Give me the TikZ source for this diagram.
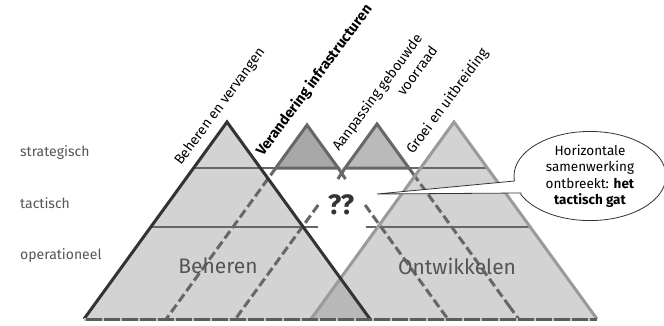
\documentclass[tikz,border=0pt]{standalone}
\usepackage{fontspec}
\setmainfont{Fira Sans}
\usetikzlibrary{shapes.geometric}
\definecolor{trifill}{HTML}{D3D3D3}
\definecolor{overfill}{HTML}{B8B8B8}
\definecolor{darkedge}{HTML}{333333}
\definecolor{greyedge}{HTML}{9A9A9A}
\definecolor{midedge}{HTML}{676767}
\definecolor{vfill}{HTML}{A8A8A8}
\definecolor{afill}{HTML}{BABABA}
\definecolor{labgrey}{HTML}{555555}
\begin{document}
\begin{tikzpicture}[x=1pt,y=-1pt,
  divline/.style={draw=midedge,line width=1.4pt},
  dashline/.style={draw=midedge,line width=3pt,dash pattern=on 9pt off 4pt},
  smalltri/.style={draw=midedge,line width=3pt,line join=miter},
  rowlabel/.style={anchor=west,text=labgrey,font=\fontsize{14}{16}\selectfont,inner sep=0pt},
  biglabel/.style={text=labgrey,font=\fontsize{21}{24}\selectfont,inner sep=0pt},
  rotlabel/.style={anchor=base west,rotate=53.5,inner sep=0pt,font=\fontsize{14}{16}\selectfont},
  bubtext/.style={font=\fontsize{13.5}{16.5}\selectfont,align=center}]
\useasboundingbox (0,0) rectangle (664,325);
\fill[white] (0,0) rectangle (664,325);
% main triangles
\coordinate (La) at (84,319); \coordinate (Lt) at (227,122); \coordinate (Lb) at (370,319);
\coordinate (Ra) at (311,319); \coordinate (Rt) at (454,122); \coordinate (Rb) at (597,319);
\coordinate (X) at (intersection of Lt--Lb and Rt--Ra);
\fill[trifill] (La)--(Lt)--(Lb)--cycle;
\fill[trifill] (Ra)--(Rt)--(Rb)--cycle;
\fill[overfill] (Ra)--(X)--(Lb)--cycle;
% level dividers
\draw[divline] (193.6,168)--(276,168);
\draw[divline] (409,168)--(487.4,168);
\draw[divline] (150.8,227)--(318,227);
\draw[divline] (366,227)--(530.2,227);
% dashed continuations
\draw[dashline] (275.8,168)--(166.2,319);
\draw[dashline] (318.2,205)--(235.4,319);
\draw[dashline] (365.1,205)--(447.8,319);
\draw[dashline,dash pattern=on 16pt off 4pt on 9pt off 4pt on 9pt off 4pt on 9pt off 4pt on 9pt off 4pt on 9pt off 4pt on 9pt off 4pt on 9pt off 4pt on 9pt off 4pt on 9pt off 4pt on 9pt off 4pt on 9pt off 4pt] (408.9,168)--(518.6,319);
% small stubs below the middle base
\draw[midedge,line width=3pt] (338.2,168)--(345.5,179);
\draw[midedge,line width=3pt] (345.1,168)--(337.8,179);
% middle strategic triangles
\coordinate (Vt) at (307,125); \coordinate (Vl) at (275.8,168); \coordinate (Vr) at (338.2,168);
\coordinate (At) at (377,124); \coordinate (Al) at (345.1,168); \coordinate (Ar) at (408.9,168);
\filldraw[smalltri,fill=vfill] (Vl)--(Vt)--(Vr)--cycle;
\filldraw[smalltri,fill=afill] (Al)--(At)--(Ar)--cycle;
% borders of big triangles
\draw[greyedge,line width=3pt,line join=miter] (Ra)--(Rt)--(Rb);
\draw[darkedge,line width=3pt,line join=miter] (La)--(Lt)--(Lb);
% base line
\draw[darkedge!80,line width=3pt] (La)--(Rb);
\draw[greyedge!60,line width=3pt,dash pattern=on 1.5pt off 16.5pt] (La)--(Rb);
% row labels
\node[rowlabel] (s) at (20,153) {strategisch};
\node[rowlabel] (t) at (20,203) {tactisch};
\node[rowlabel] (o) at (20,256) {operationeel};
% big labels
\node[biglabel] (beh) at (218,266) {Beheren};
\node[biglabel] (ont) at (457,266) {Ontwikkelen};
\node[text=darkedge,font=\fontsize{28}{30}\bfseries\selectfont,inner sep=0pt] (qq) at (341,205) {??};
% rotated labels
\node[rotlabel] (r1) at (181,166) {Beheren en vervangen};
\node[rotlabel,font=\fontsize{14.5}{16}\bfseries\selectfont] (r2) at (263,157) {Verandering infrastructuren};
\node[rotlabel] (r3) at (339,152) {Aanpassing gebouwde};
\node[rotlabel] (r3b) at (404,97) {voorraad};
\node[rotlabel] (r4) at (413,155) {Groei en uitbreiding};
% speech bubble
\node[draw=darkedge,line width=0.8pt,fill=white,ellipse,minimum width=152pt,minimum height=78pt,inner sep=0pt,bubtext] (bub) at (590,176) {Horizontale\\samenwerking\\ontbreekt: \textbf{het}\\\textbf{tactisch gat}};
\coordinate (tip) at (377,194);
\coordinate (tu) at (514.6,181);
\coordinate (tl) at (521.6,193);
\fill[white] (tip)--(519,180.5)--(526,193.5)--cycle;
\draw[darkedge,line width=0.8pt] (tu)--(tip)--(tl);
\end{tikzpicture}
\end{document}
